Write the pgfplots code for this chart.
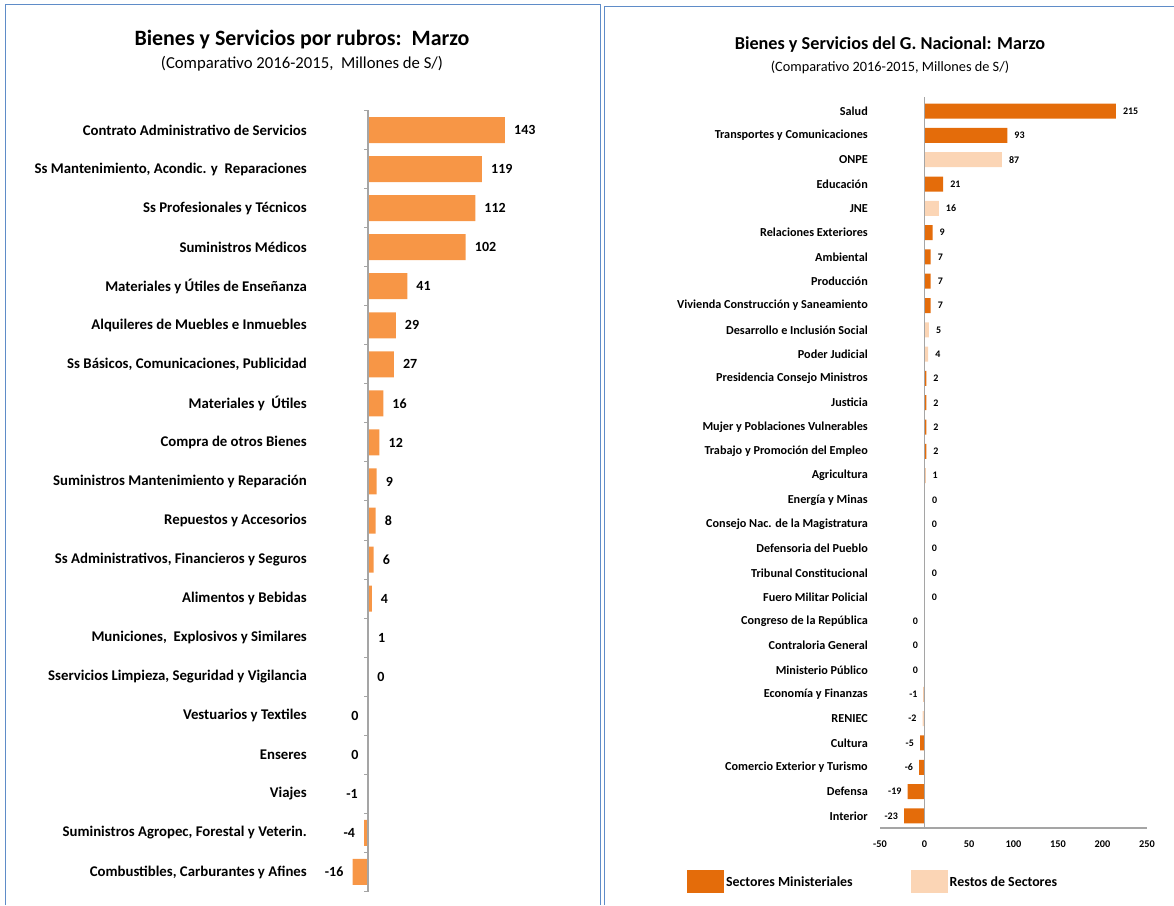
\documentclass[border=0pt]{standalone}
\usepackage{pgfplots}
\pgfplotsset{compat=1.18}
\usepackage{fontspec}
\setmainfont{Carlito}
\definecolor{lorange}{RGB}{247,150,70}
\definecolor{dorange}{RGB}{228,108,10}
\definecolor{lpeach}{RGB}{251,213,181}
\definecolor{framec}{RGB}{95,140,200}
\definecolor{axgray}{RGB}{165,165,165}
\begin{document}
\begin{tikzpicture}[x=1pt,y=1pt]
\useasboundingbox (0pt,0pt) rectangle (1174pt,905pt);
\draw[framec,line width=1pt] (5pt,0pt) -- (5pt,900pt) -- (600pt,900pt) -- (600pt,0pt);
\draw[framec,line width=1pt] (604pt,0pt) -- (604pt,898pt) -- (1174pt,898pt);
% titles
\node[font=\bfseries\fontsize{21.9}{25}\selectfont] at (302pt,865pt) {Bienes y Servicios por rubros:\ \ Marzo};
\node[font=\fontsize{16.7}{20}\selectfont] at (302pt,841pt) {(Comparativo 2016-2015,\ \ Millones de S/)};
\node[font=\bfseries\fontsize{18.2}{22}\selectfont] at (890pt,860pt) {Bienes y Servicios del G. Nacional: Marzo};
\node[font=\fontsize{14.3}{17}\selectfont] at (890pt,838pt) {(Comparativo 2016-2015, Millones de S/)};

% LEFT CHART
\begin{axis}[
  at={(348.8pt,13.5pt)}, anchor=south west, scale only axis,
  width=162.9pt, height=781pt,
  xmin=-20, xmax=150, ymin=-0.5, ymax=19.5,
  xbar, bar width=26pt, bar shift=0pt,
  axis line style={draw=none},
  xtick=\empty,
  ytick={0,...,19},
  major tick length=0pt,
  yticklabels={{Combustibles, Carburantes y Afines},{Suministros Agropec, Forestal y Veterin.},{Viajes},{Enseres},{Vestuarios y Textiles},{Sservicios Limpieza, Seguridad y Vigilancia},{Municiones,\ \ Explosivos y Similares},{Alimentos y Bebidas},{Ss Administrativos, Financieros y Seguros},{Repuestos y Accesorios},{Suministros Mantenimiento y Reparación},{Compra de otros Bienes},{Materiales y\ \ Útiles},{Ss Básicos, Comunicaciones, Publicidad},{Alquileres de Muebles e Inmuebles},{Materiales y Útiles de Enseñanza},{Suministros Médicos},{Ss Profesionales y Técnicos},{Ss Mantenimiento, Acondic. y\ \ Reparaciones},{Contrato Administrativo de Servicios}},
  yticklabel style={font=\bfseries\fontsize{14.8}{17}\selectfont, anchor=east, inner sep=0pt, xshift=-41.8pt},
  nodes near coords,
  nodes near coords style={font=\bfseries\fontsize{14}{16}\selectfont, inner sep=0pt},
  clip=false,
]
\addplot[fill=lorange, draw=none, point meta=explicit symbolic,
  every node near coord/.append style={anchor=west, xshift=9pt}]
coordinates {(143,19) [143] (119,18) [119] (112,17) [112] (102,16) [102] (41,15) [41] (29,14) [29] (27,13) [27] (16,12) [16] (12,11) [12] (9,10) [9] (8,9) [8] (6,8) [6] (4,7) [4] (1,6) [1] (0.3,5) [0]};
\addplot[fill=lorange, draw=none, point meta=explicit symbolic,
  every node near coord/.append style={anchor=east, xshift=-9pt}]
coordinates {(-0.3,4) [0] (-0.3,3) [0] (-1,2) [-1] (-4,1) [-4] (-16,0) [-16]};
\draw[axgray, line width=1.3pt] (axis cs:0,-0.5) -- (axis cs:0,19.5);
\pgfplotsinvokeforeach{-0.5,0.5,...,19.5}{\draw[axgray, line width=1pt] (axis cs:0,#1) -- ++(-4pt,0pt);}
\end{axis}

% RIGHT CHART
\begin{axis}[
  at={(880pt,77pt)}, anchor=south west, scale only axis,
  width=267pt, height=729pt,
  xmin=-50, xmax=250, ymin=-0.5, ymax=29.5,
  xbar, bar width=15pt, bar shift=0pt,
  axis line style={draw=none},
  xtick={-50,0,50,100,150,200,250},
  ytick={0,...,29},
  major tick length=0pt,
  /pgf/number format/assume math mode=true,
  xticklabel style={font=\bfseries\fontsize{10.3}{12}\selectfont, yshift=-9pt},
  yticklabels={{Interior},{Defensa},{Comercio Exterior y Turismo},{Cultura},{RENIEC},{Economía y Finanzas},{Ministerio Público},{Contraloria General},{Congreso de la República},{Fuero Militar Policial},{Tribunal Constitucional},{Defensoria del Pueblo},{Consejo Nac. de la Magistratura},{Energía y Minas},{Agricultura},{Trabajo y Promoción del Empleo},{Mujer y Poblaciones Vulnerables},{Justicia},{Presidencia Consejo Ministros},{Poder Judicial},{Desarrollo e Inclusión Social},{Vivienda Construcción y Saneamiento},{Producción},{Ambiental},{Relaciones Exteriores},{JNE},{Educación},{ONPE},{Transportes y Comunicaciones},{Salud}},
  yticklabel style={font=\bfseries\fontsize{12.2}{14}\selectfont, anchor=east, inner sep=0pt, xshift=-12pt},
  nodes near coords,
  nodes near coords style={font=\bfseries\fontsize{10}{12}\selectfont, inner sep=0pt},
  clip=false,
  legend columns=2,
  legend style={draw=none, fill=none, at={(-0.026,-0.074)}, anchor=center,
    font=\bfseries\fontsize{13.9}{16}\selectfont,
    /tikz/every even column/.append style={column sep=56pt}},
  legend image code/.code={\fill (0pt,-11.5pt) rectangle (37pt,11.5pt);},
]
\addplot[fill=dorange, draw=none, point meta=explicit symbolic,
  every node near coord/.append style={anchor=west, xshift=7pt}]
coordinates {(215,29) [215] (93,28) [93] (21,26) [21] (9,24) [9] (7,23) [7] (7,22) [7] (7,21) [7] (2,18) [2] (2,17) [2] (2,16) [2] (2,15) [2] (1,14) [1] (0.4,13) [0] (0.3,9) [0]};
\addlegendentry{Sectores Ministeriales}
\addplot[fill=lpeach, draw=none, point meta=explicit symbolic,
  every node near coord/.append style={anchor=west, xshift=7pt}]
coordinates {(87,27) [87] (16,25) [16] (5,20) [5] (4,19) [4] (0.3,12) [0] (0.3,11) [0] (0.3,10) [0]};
\addlegendentry{Restos de Sectores}
\addplot[forget plot, fill=dorange, draw=none, point meta=explicit symbolic,
  every node near coord/.append style={anchor=east, xshift=-6pt}]
coordinates {(-1,5) [-1] (-5,3) [-5] (-6,2) [-6] (-19,1) [-19] (-23,0) [-23]};
\addplot[forget plot, fill=lpeach, draw=none, point meta=explicit symbolic,
  every node near coord/.append style={anchor=east, xshift=-6pt}]
coordinates {(-0.3,8) [0] (-0.3,7) [0] (-0.3,6) [0] (-2,4) [-2]};
\draw[axgray, line width=1.3pt] (axis cs:0,-0.5) -- (axis cs:0,29.6);
\draw[axgray, line width=1.3pt] (axis cs:-50,-0.5) -- (axis cs:250,-0.5);
\end{axis}
\end{tikzpicture}
\end{document}
